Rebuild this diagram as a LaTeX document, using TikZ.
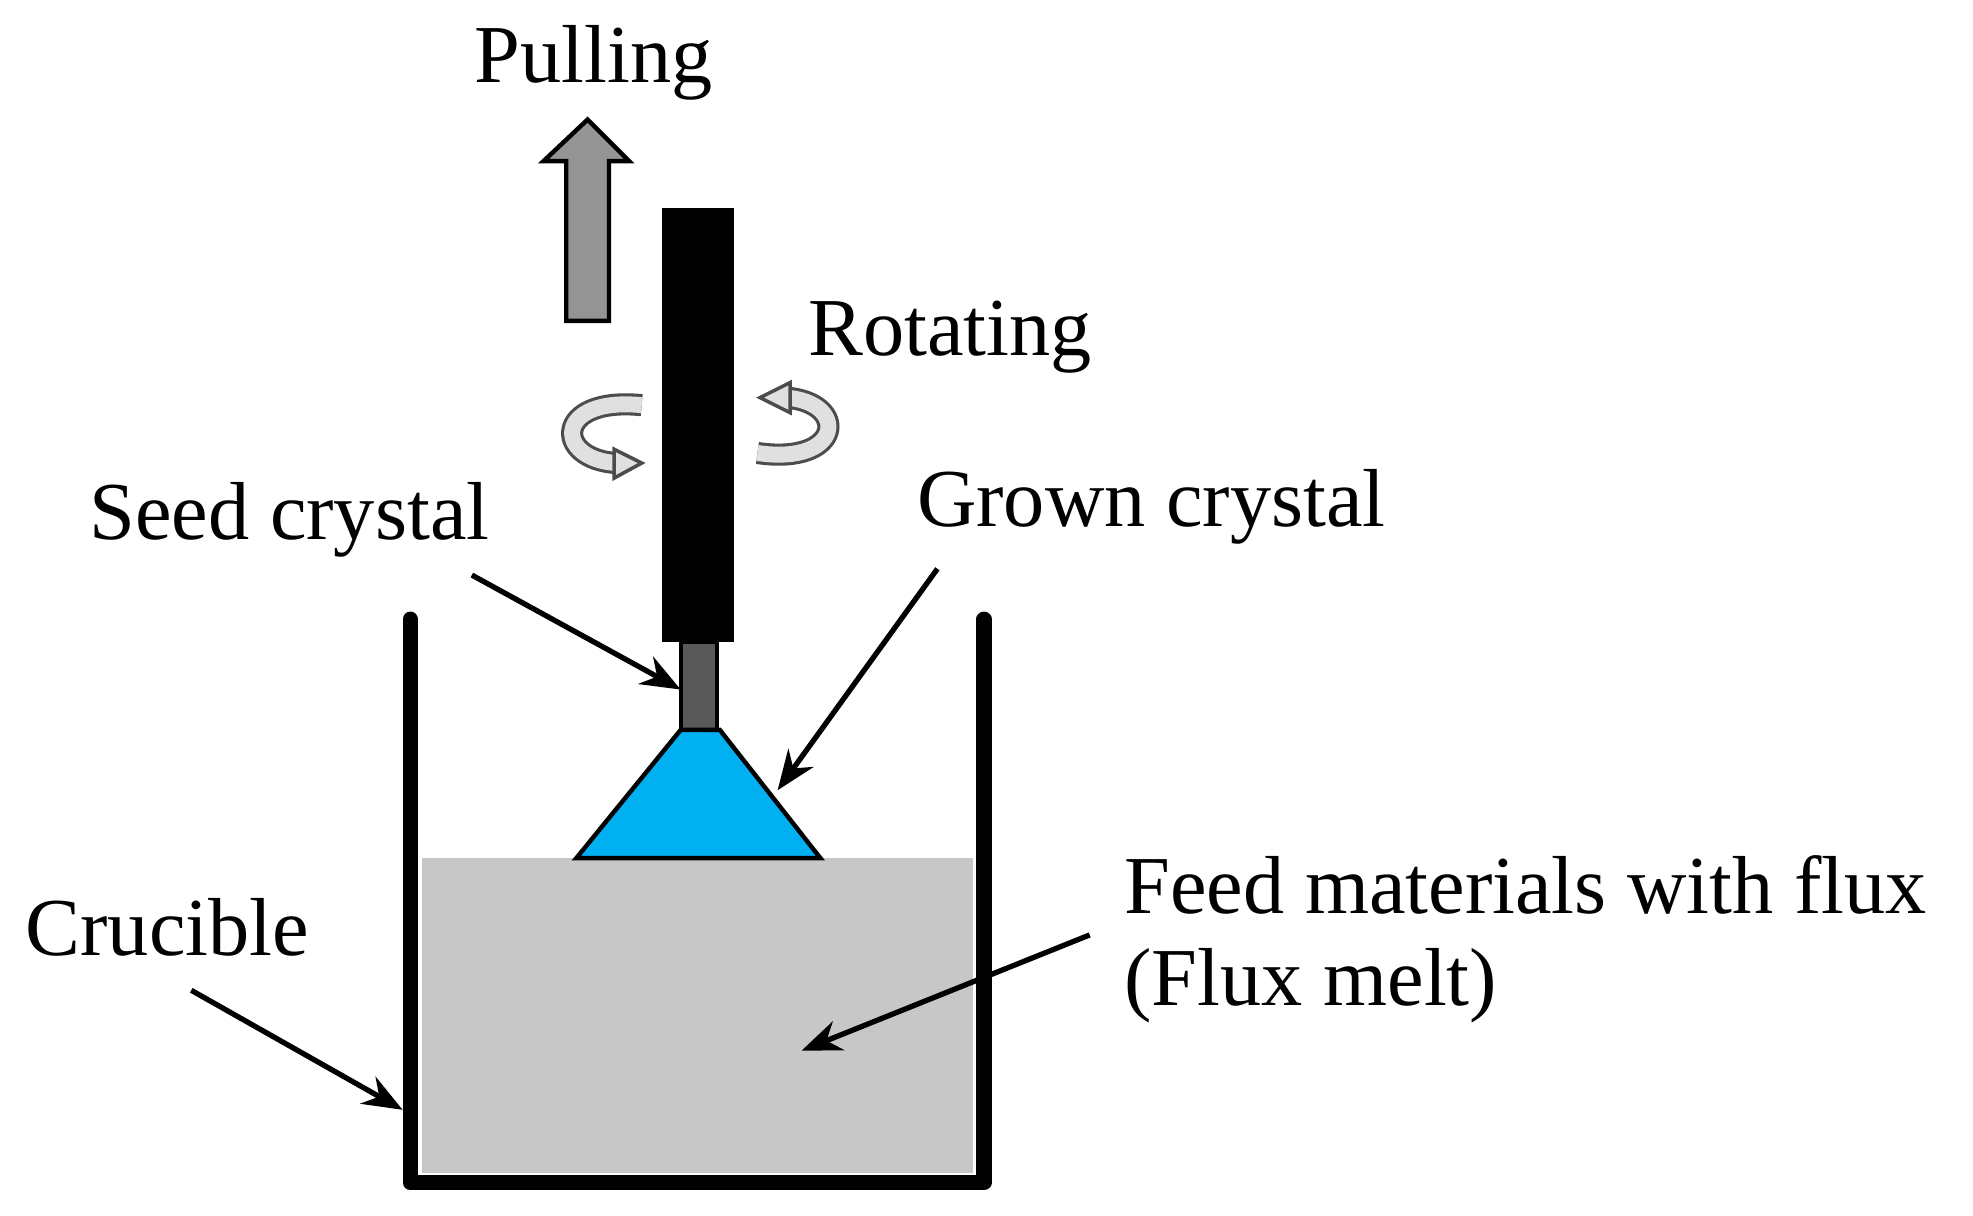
\documentclass[tikz,border=0pt]{standalone}
\usepackage{fontspec}
\setmainfont{Liberation Serif}
\usetikzlibrary{arrows.meta}
\definecolor{cry}{HTML}{00B0F0}
\begin{document}
\begin{tikzpicture}[x=0.01cm,y=-0.01cm,
 lbl/.style={font=\fontsize{18.6}{22}\selectfont,inner sep=0pt},
 ptr/.style={line width=1.2pt,-{Stealth[length=9pt,width=7pt]}},
 rot/.style={line width=5pt,draw=black!70,
   postaction={draw=black!12,line width=3.6pt}}]
\useasboundingbox (0,0) rectangle (1568,966);
% melt
\fill[black!22] (335,682) rectangle (773,932);
% crucible
\draw[line width=3.4pt,line cap=round,line join=round] (326,492) -- (326,940) -- (782,940) -- (782,492);
% rod
\fill (526,165) rectangle (583,510);
\draw[fill=black!65,line width=0.8pt] (541,510) rectangle (570,580);
% crystal
\draw[fill=cry,line width=1pt] (541,580) -- (572,580) -- (652,682) -- (458,682) -- cycle;
% pulling arrow
\draw[fill=black!42,line width=1pt] (450,255) -- (450,128) -- (432,128) -- (467,95) -- (500,128) -- (484,128) -- (484,255) -- cycle;
\node[lbl] (pull) at (472,50) {Pulling};
% rotating arrows
\draw[rot] (510,322) .. controls (440,315) and (440,365) .. (490,368);
\draw[fill=black!12,draw=black!70,line width=0.8pt] (488,357) -- (510,368) -- (488,380) -- cycle;
\draw[rot] (602,360) .. controls (670,370) and (675,320) .. (625,316);
\draw[fill=black!12,draw=black!70,line width=0.8pt] (628,304) -- (604,316) -- (628,328) -- cycle;
\node[lbl] (rot) at (755,268) {Rotating};
% labels
\node[lbl] (seed) at (230,413) {Seed crystal};
\node[lbl] (grown) at (915,403) {Grown crystal};
\node[lbl] (cruc) at (133,737) {Crucible};
\node[lbl,anchor=west] (feed) at (893,703) {Feed materials with flux};
\node[lbl,anchor=west] (melt) at (893,783) {(Flux melt)};
\coordinate (s1) at (375,457); \coordinate (s2) at (541,548);
\coordinate (g1) at (745,452); \coordinate (g2) at (618,628);
\coordinate (c1) at (152,787); \coordinate (c2) at (320,882);
\coordinate (f1) at (866,743); \coordinate (f2) at (637,835);
\draw[ptr] (s1) -- (s2);
\draw[ptr] (g1) -- (g2);
\draw[ptr] (c1) -- (c2);
\draw[ptr] (f1) -- (f2);
\end{tikzpicture}
\end{document}
